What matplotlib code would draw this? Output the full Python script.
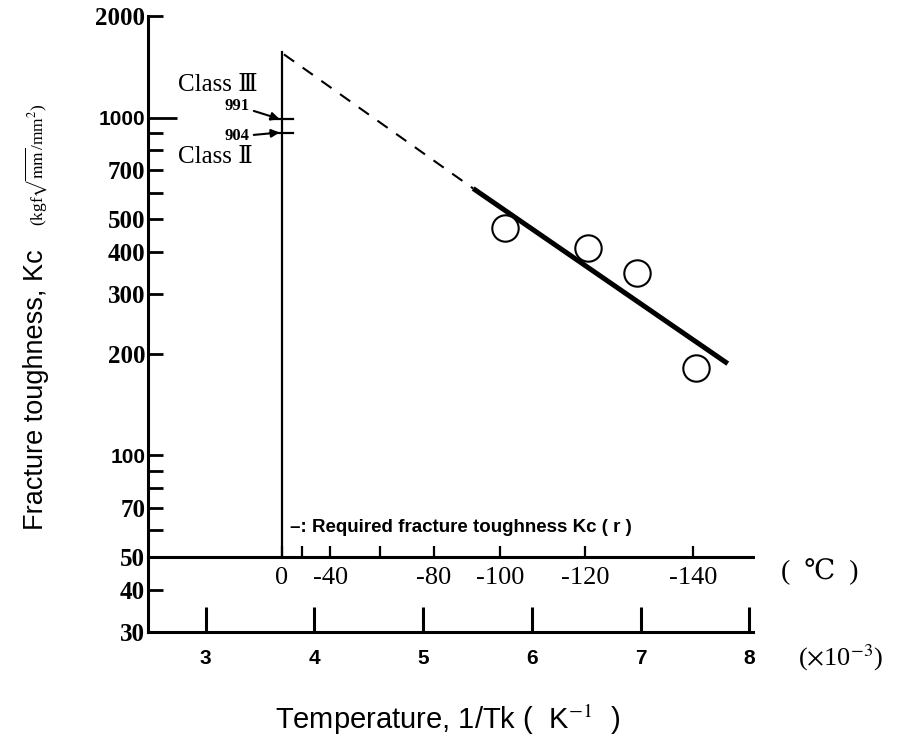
import numpy as np
import matplotlib.pyplot as plt

plt.rcParams['mathtext.fontset'] = 'stix'

SERIF = ['Liberation Serif', 'DejaVu Serif', 'Noto Sans CJK JP']
SANS = ['Liberation Sans', 'DejaVu Sans']

# test results: 1/T (x1e-3 K^-1) and Kc (kgf sqrt(mm)/mm^2)
inv_t = [5.755, 6.518, 6.969, 7.511]
kc = [473, 410, 346, 181]

# fitted line and its dashed extrapolation up to 0 deg C
fit_x = [5.46, 7.80]
fit_y = [617, 187]
extrap_x = [3.72, 5.46]
extrap_y = [1540, 617]

# required toughness marks at 0 deg C
zero_c_top = 1567
req_kc = [991, 904]
req_labels = ['991', '904']

inv_ticks = [3, 4, 5, 6, 7, 8]
temp_pos = [3.70, 3.886, 4.146, 4.606, 5.096, 5.710, 6.491, 7.485]
temp_labels = ['0', '', '-40', '', '-80', '-100', '-120', '-140']

kc_ticks = [30, 40, 50, 70, 100, 200, 300, 400, 500, 700, 1000, 2000]
kc_minor = [60, 80, 90, 600, 800, 900]
sans_labels = [100, 1000]

fig = plt.figure(figsize=(9, 7.42), dpi=100)
ax = fig.add_axes([0.1644, 0.1482, 0.672, 0.8302])
ax.set_yscale('log')
ax.set_xlim(2.47, 8.03)
ax.set_ylim(30, 2000)

for s in ['top', 'right']:
    ax.spines[s].set_visible(False)
for s in ['left', 'bottom']:
    ax.spines[s].set_linewidth(2.2)

# 1/T axis
ax.set_xticks(inv_ticks)
ax.set_xticklabels([str(v) for v in inv_ticks])
ax.tick_params(axis='x', direction='in', length=18, width=2.2, pad=12)
for lab in ax.get_xticklabels():
    lab.set_fontfamily(SANS)
    lab.set_fontweight('bold')
    lab.set_fontsize(15)

# Kc axis
ax.set_yticks(kc_ticks)
ax.set_yticklabels([str(v) for v in kc_ticks])
ax.set_yticks(kc_minor, minor=True)
ax.set_yticklabels([], minor=True)
ax.tick_params(axis='y', which='both', direction='in', length=11, width=2, pad=2)
for v, lab, tk in zip(kc_ticks, ax.get_yticklabels(), ax.yaxis.get_major_ticks()):
    if v in sans_labels:
        lab.set_fontfamily(SANS)
        lab.set_fontsize(15)
    else:
        lab.set_fontfamily(SERIF)
        lab.set_fontsize(18)
    lab.set_fontweight('bold')
    if v == 1000:
        tk.tick1line.set_markersize(21)

# temperature scale drawn on the Kc = 50 line
sec = ax.secondary_xaxis(50, transform=ax.transData)
sec.set_alignment('bottom')
sec.spines['bottom'].set_linewidth(2.2)
sec.set_xticks(temp_pos)
sec.set_xticklabels(temp_labels)
sec.tick_params(axis='x', direction='in', length=8, width=1.6, pad=7)
for lab in sec.get_xticklabels():
    lab.set_fontfamily(SERIF)
    lab.set_fontsize(19)

# 0 deg C line and required values
ax.plot([temp_pos[0], temp_pos[0]], [50, zero_c_top], color='k', lw=1.6)
for v in req_kc:
    ax.plot([3.595, 3.806], [v, v], color='k', lw=1.6)
ax.annotate(req_labels[0], xy=(temp_pos[0] - 0.02, req_kc[0]), xytext=(3.29, 1085),
            ha='center', va='center', fontsize=12, fontweight='bold', family=SERIF,
            arrowprops=dict(arrowstyle='-|>', color='k', lw=1.5, mutation_scale=12,
                            shrinkA=1, shrinkB=0))
ax.annotate(req_labels[1], xy=(temp_pos[0] - 0.02, req_kc[1]), xytext=(3.29, 880),
            ha='center', va='center', fontsize=12, fontweight='bold', family=SERIF,
            arrowprops=dict(arrowstyle='-|>', color='k', lw=1.5, mutation_scale=12,
                            shrinkA=1, shrinkB=0))
ax.text(2.75, 1252, 'Class Ⅲ', fontsize=18, family=SERIF, va='center')
ax.text(2.75, 767, 'Class Ⅱ', fontsize=18, family=SERIF, va='center')

# trend line and data
ax.plot(extrap_x, extrap_y, color='k', lw=1.5, linestyle=(0, (6, 5)))
ax.plot(fit_x, fit_y, color='k', lw=3.6, solid_capstyle='butt')
ax.plot(inv_t, kc, 'o', ms=19, mfc='white', mec='k', mew=1.5)

ax.text(3.78, 61, '–: Required fracture toughness Kc ( r )', fontsize=13.5,
        fontweight='bold', family=SANS, va='center')

# unit labels outside the axes
fig.text(820 / 900, 1 - 572 / 742, '(  ℃  )', fontsize=20, family=SERIF,
         ha='center', va='center')
fig.text(841 / 900, 1 - 658 / 742, r'($\times$10$^{-3}$)', fontsize=19,
         family=SERIF, ha='center', va='center')
fig.text(448 / 900, 1 - 720 / 742, r'Temperature, 1/Tk (  K$^{-1}$  )', fontsize=21,
         family=SANS, ha='center', va='center')
fig.text(43 / 900, 1 - 530 / 742, 'Fracture toughness, Kc', fontsize=19.5,
         family=SANS, rotation=90, rotation_mode='anchor', ha='left', va='baseline')
fig.text(43 / 900, 1 - 226 / 742, r'(kgf$\sqrt{\mathrm{mm}}$/mm$^2$)', fontsize=12.5,
         family=SERIF, rotation=90, rotation_mode='anchor', ha='left', va='baseline')

fig.savefig('out.png', dpi=100)
